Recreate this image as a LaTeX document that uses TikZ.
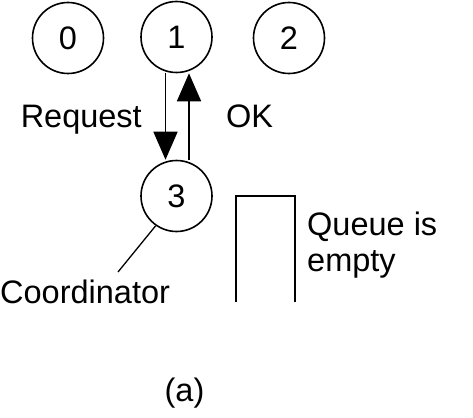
\documentclass[tikz,border=0pt]{standalone}
\usepackage{fontspec}
\setmainfont{Liberation Sans}
\usetikzlibrary{arrows.meta}
\begin{document}
\begin{tikzpicture}[x=1pt,y=-1pt,
  proc/.style={circle,draw,line width=1.6pt,minimum size=71pt,inner sep=0pt,font=\fontsize{32.5}{36}\selectfont},
  lbl/.style={font=\fontsize{32.5}{36}\selectfont,inner sep=0pt},
  msg/.style={line width=1.8pt,-{Triangle[length=28pt,width=24pt]}}]
\useasboundingbox (0,0) rectangle (473,417);
\node[proc] (p0) at (68,38) {0};
\node[proc] (p1) at (176.5,37) {1};
\node[proc] (p2) at (289,38) {2};
\node[proc] (p3) at (176.5,196) {3};
\draw[msg] (p1.south -| 165.5,0) -- (p3.north -| 165.5,0);
\draw[msg] (p3.north -| 189,0) -- (p1.south -| 189,0);
\node[lbl,anchor=east] (req) at (142,120) {Request};
\node[lbl,anchor=west] (ok) at (226,116) {OK};
\node[lbl,anchor=west] (coord) at (0,292) {Coordinator};
\coordinate (cend) at (118,272);
\draw[line width=1.3pt] (p3.235) -- (cend);
\draw[line width=1.6pt] (236,302) -- (236,196) -- (295,196) -- (295,302);
\node[lbl,anchor=west,align=left] (queue) at (307,245) {Queue is\\empty};
\node[lbl] (cap) at (184.5,393) {(a)};
\end{tikzpicture}
\end{document}
